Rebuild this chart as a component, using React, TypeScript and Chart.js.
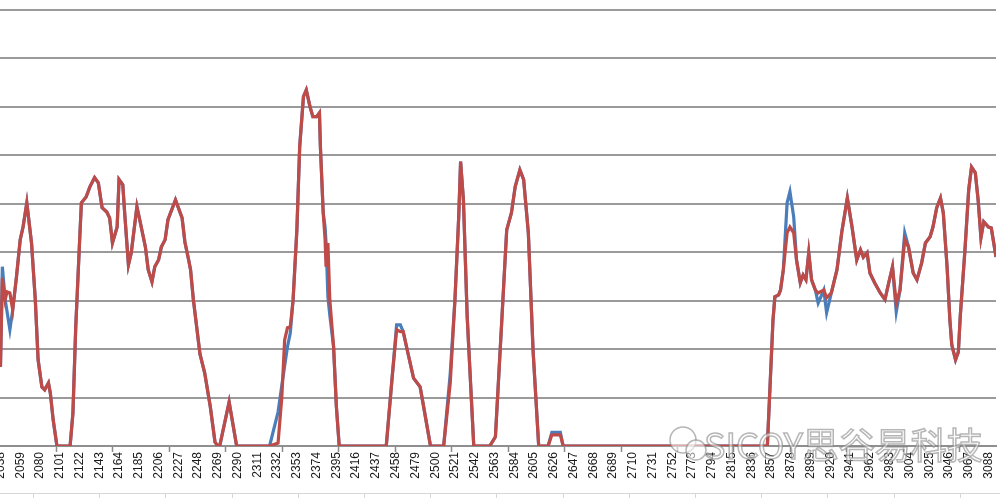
import React, { useEffect, useRef } from 'react';
import { Chart, registerables } from 'chart.js';

Chart.register(...registerables);

// sample index (x) and the two series' values
const xValues = [
  2038, 2040, 2043, 2045, 2048, 2051, 2055, 2059, 2062, 2066, 2071, 2075, 2078, 2082, 2085, 2089, 2091, 2094, 2098,
  2112, 2115, 2118, 2122, 2124, 2129, 2133, 2138, 2142, 2146, 2151, 2154, 2157, 2162, 2164, 2168, 2170, 2174, 2177,
  2183, 2186, 2192, 2195, 2199, 2202, 2206, 2209, 2213, 2216, 2224, 2231, 2234, 2238, 2240, 2243, 2250, 2255, 2261,
  2266, 2269, 2271, 2281, 2289, 2324, 2333, 2337, 2340, 2343, 2346, 2349, 2353, 2356, 2360, 2363, 2367, 2370, 2374,
  2377, 2378, 2381, 2383, 2384, 2386, 2388, 2392, 2395, 2398, 2448, 2454, 2459, 2463, 2466, 2471, 2477, 2484, 2487,
  2495, 2509, 2516, 2521, 2525, 2527, 2530, 2534, 2541, 2558, 2564, 2571, 2576, 2581, 2585, 2590, 2594, 2599, 2604,
  2610, 2620, 2624, 2633, 2636, 2853, 2859, 2861, 2865, 2867, 2870, 2874, 2877, 2881, 2884, 2888, 2891, 2894, 2897,
  2900, 2904, 2907, 2913, 2916, 2921, 2927, 2932, 2938, 2943, 2948, 2952, 2955, 2959, 2962, 2967, 2973, 2978, 2982,
  2986, 2990, 2994, 2999, 3003, 3008, 3012, 3017, 3021, 3026, 3029, 3033, 3037, 3040, 3044, 3047, 3049, 3053, 3056,
  3058, 3063, 3067, 3070, 3074, 3077, 3080, 3083, 3088, 3091, 3096,
];

const redValues = [
  16.3, 34.7, 30.2, 31.8, 31.6, 28.1, 34.9, 42.6, 45.2, 50.2, 41.9, 30.2, 17.8, 12.2, 11.6, 13.0, 10.9, 5.4, 0,
  0, 6.8, 24.6, 41.9, 50.2, 51.4, 53.5, 55.4, 54.3, 49.2, 48.3, 47.1, 41.9, 45.2, 55.0, 53.9, 48.1, 37.4, 39.9,
  49.4, 46.7, 41.1, 36.4, 33.9, 37.0, 38.4, 41.1, 42.6, 46.7, 50.8, 47.1, 42.1, 38.4, 36.4, 30.2, 19.0, 15.1, 8.1,
  0.8, 0, 0, 9.1, 0, 0, 0.6, 10.1, 21.9, 24.4, 24.6, 30.2, 44.6, 61.8, 72.1, 73.5, 70.0, 68.0, 68.0,
  68.8, 61.8, 48.1, 42.6, 37.0, 41.9, 30.2, 20.5, 8.1, 0, 0, 13.6, 24.0, 23.6, 23.6, 19.2, 14.0, 12.2, 8.9,
  0, 0, 13.0, 30.2, 47.3, 58.7, 50.8, 26.7, 0, 0, 1.9, 26.7, 44.6, 48.1, 53.5, 57.0, 55.0, 44.0, 19.8,
  0, 0, 2.3, 2.3, 0, 0, 26.0, 30.8, 31.2, 32.2, 36.4, 44.0, 45.2, 44.0, 38.4, 33.7, 35.3, 34.3, 39.9,
  34.3, 32.2, 31.6, 32.2, 30.6, 31.6, 36.4, 44.0, 51.2, 45.2, 38.4, 40.5, 39.0, 39.9, 35.7, 33.7, 31.6, 30.2, 33.7,
  37.0, 29.5, 32.2, 42.6, 41.1, 35.7, 34.3, 37.8, 41.9, 43.2, 45.2, 49.2, 51.2, 48.1, 37.0, 26.0, 20.9, 17.8, 19.4,
  26.7, 40.5, 52.9, 57.6, 56.4, 50.8, 43.0, 46.3, 45.2, 45.0, 39.0,
];

const blueValues = [
  16.3, 37.0, 30.2, 27.7, 24.0, 28.1, 34.9, 42.6, 45.2, 50.2, 41.9, 30.2, 17.8, 12.2, 11.6, 13.0, 10.9, 5.4, 0,
  0, 6.8, 24.6, 41.9, 50.2, 51.4, 53.5, 55.4, 54.3, 49.2, 48.3, 47.1, 41.9, 45.2, 55.0, 53.9, 48.1, 37.4, 39.9,
  49.4, 46.7, 41.1, 36.4, 33.9, 37.0, 38.4, 41.1, 42.6, 46.7, 50.8, 47.1, 42.1, 38.4, 36.4, 30.2, 19.0, 15.1, 8.1,
  0.8, 0, 0, 9.1, 0, 0, 7.0, 12.5, 16.5, 20.5, 23.3, 30.2, 44.6, 61.8, 72.1, 73.5, 70.0, 68.0, 68.0,
  68.8, 61.8, 48.1, 45.2, 42.0, 30.8, 27.0, 20.5, 8.1, 0, 0, 13.6, 25.0, 25.0, 23.6, 19.2, 14.0, 12.2, 8.9,
  0, 0, 15.0, 30.2, 47.3, 58.7, 50.8, 26.7, 0, 0, 1.9, 26.7, 44.6, 48.1, 53.5, 57.0, 55.0, 44.0, 19.8,
  0, 0, 2.8, 2.8, 0, 0, 26.0, 30.8, 31.2, 32.2, 36.4, 50.2, 52.5, 47.3, 38.4, 33.7, 35.3, 34.3, 39.9,
  34.3, 32.2, 29.5, 32.2, 27.5, 31.6, 36.4, 44.0, 51.2, 45.2, 38.4, 40.5, 39.0, 39.9, 35.7, 33.7, 31.6, 30.2, 33.7,
  37.0, 27.7, 32.2, 44.0, 41.1, 35.7, 34.3, 37.8, 41.9, 43.2, 45.2, 49.2, 51.2, 48.1, 37.0, 26.0, 20.9, 17.8, 19.4,
  26.7, 40.5, 52.9, 57.6, 56.4, 50.8, 43.0, 46.3, 45.2, 45.0, 39.0,
];

const xTickLabels = [
  2038, 2059, 2080, 2101, 2122, 2143, 2164, 2185, 2206, 2227, 2248, 2269, 2290, 2311, 2332, 2353, 2374,
  2395, 2416, 2437, 2458, 2479, 2500, 2521, 2542, 2563, 2584, 2605, 2626, 2647, 2668, 2689, 2710, 2731,
  2752, 2773, 2794, 2815, 2836, 2857, 2878, 2899, 2920, 2941, 2962, 2983, 3004, 3025, 3046, 3067, 3088,
];

const xTickMarks = [
  2097.5, 2157.5, 2217.5, 2277.5, 2337.5, 2397.5, 2457.5, 2517.5, 2577.5, 2637.5, 2697.5, 2757.5,
  2817.5, 2877.5, 2937.5, 2997.5, 3057.5,
];

const watermarkText = 'SICOY思谷易科技';

const decorPlugin = {
  id: 'decor',
  afterDraw(chart: any) {
    const ctx = chart.ctx;
    const w = chart.width;
    const h = chart.height;
    ctx.save();
    // sheet frame below the chart
    ctx.strokeStyle = '#d6d6d6';
    ctx.lineWidth = 1;
    ctx.beginPath();
    ctx.moveTo(0, h - 4.5);
    ctx.lineTo(w, h - 4.5);
    for (let x = 33; x < w; x += 66.2) {
      ctx.moveTo(Math.round(x) + 0.5, h - 4.5);
      ctx.lineTo(Math.round(x) + 0.5, h);
    }
    ctx.stroke();
    // watermark
    ctx.globalAlpha = 0.55;
    ctx.strokeStyle = '#7a7a7a';
    ctx.fillStyle = '#ffffff';
    ctx.lineWidth = 1.5;
    ctx.beginPath();
    ctx.arc(683, 440, 13, 0, Math.PI * 2);
    ctx.fill();
    ctx.stroke();
    ctx.beginPath();
    ctx.arc(696, 450, 10, 0, Math.PI * 2);
    ctx.fill();
    ctx.stroke();
    ctx.font = '36px "Noto Sans CJK SC", "Liberation Sans", sans-serif';
    ctx.textBaseline = 'alphabetic';
    ctx.fillText(watermarkText, 704, 459);
    ctx.strokeText(watermarkText, 704, 459);
    ctx.restore();
  },
};

export default function App() {
  const ref = useRef<HTMLCanvasElement>(null);

  useEffect(() => {
    const canvas = ref.current;
    if (!canvas) return;
    const redData = xValues.map((x, i) => ({ x, y: redValues[i] }));
    const blueData = xValues.map((x, i) => ({ x, y: blueValues[i] }));
    const allTicks = [
      ...xTickLabels.map((v) => ({ value: v, mark: false })),
      ...xTickMarks.map((v) => ({ value: v, mark: true })),
    ].sort((a, b) => a.value - b.value);

    const chart = new Chart(canvas, {
      type: 'line',
      data: {
        datasets: [
          {
            label: 'B',
            data: redData,
            borderColor: '#BE4B48',
            borderWidth: 3.2,
            pointRadius: 0,
            tension: 0,
            order: 0,
          },
          {
            label: 'A',
            data: blueData,
            borderColor: '#4A7EBB',
            borderWidth: 3.2,
            pointRadius: 0,
            tension: 0,
            order: 1,
          },
        ],
      },
      options: {
        animation: false,
        responsive: false,
        layout: { padding: { top: 10, right: 4, left: 0, bottom: 0 } },
        plugins: { legend: { display: false }, tooltip: { enabled: false } },
        scales: {
          x: {
            type: 'linear',
            min: 2037.5,
            max: 3096,
            afterBuildTicks: (s: any) => {
              s.ticks = allTicks.map((t) => ({ ...t }));
            },
            afterFit: (s: any) => {
              s.height = 52;
              s.paddingLeft = 0;
              s.paddingRight = 0;
            },
            ticks: {
              autoSkip: false,
              minRotation: 90,
              maxRotation: 90,
              padding: 0,
              color: '#1a1a1a',
              font: { family: 'Liberation Sans', size: 12 },
              callback: (v: any, i: number, ts: any[]) => (ts[i] && ts[i].mark ? '' : String(v)),
            },
            grid: {
              drawOnChartArea: false,
              drawTicks: true,
              tickLength: 6,
              tickWidth: 1.5,
              tickColor: (c: any) => (c.tick && c.tick.mark ? '#8a8a8a' : 'rgba(0,0,0,0)'),
            },
            border: { color: '#8f8f8f', width: 2 },
          },
          y: {
            min: 0,
            max: 90,
            ticks: { display: false, stepSize: 10 },
            grid: { color: '#9a9a9a', lineWidth: 2, drawTicks: false },
            border: { display: false },
            afterFit: (s: any) => {
              s.width = 0;
            },
          },
        },
      },
      plugins: [decorPlugin],
    });
    return () => chart.destroy();
  }, []);

  return (
    <div style={{ position: 'fixed', left: 0, top: 0, width: 1000, height: 498, background: '#fff' }}>
      <canvas ref={ref} width={1000} height={498} style={{ display: 'block' }} />
    </div>
  );
}
